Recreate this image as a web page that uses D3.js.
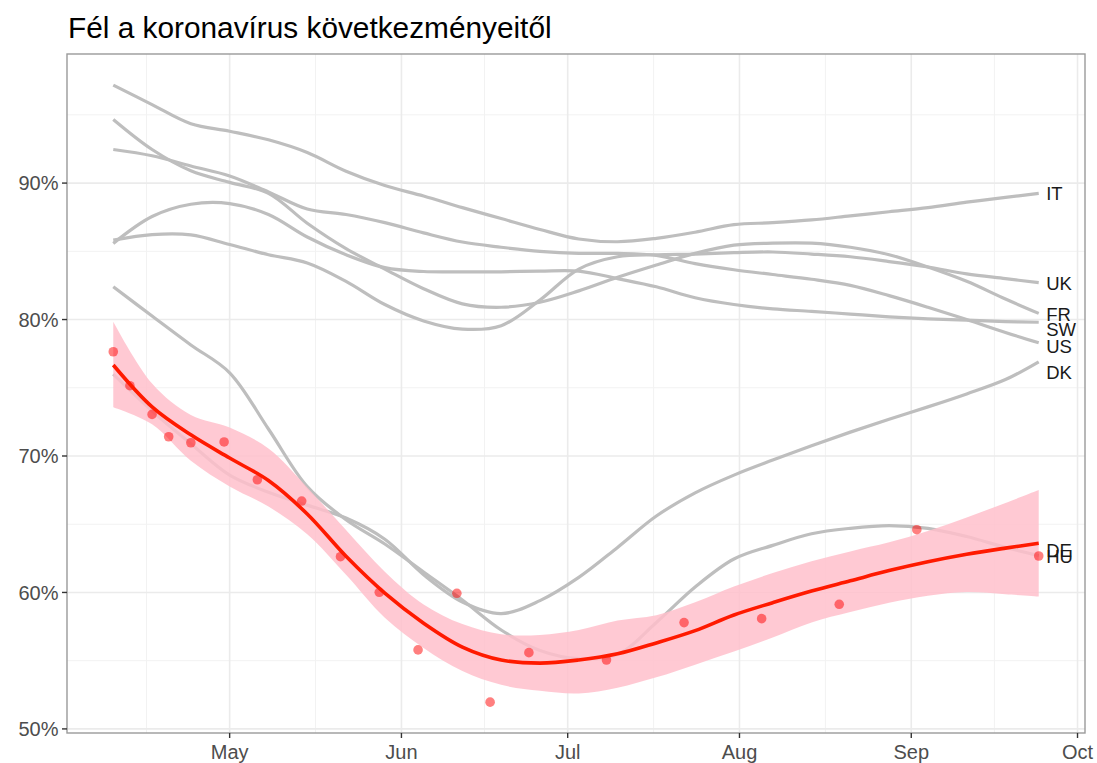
<!DOCTYPE html>
<html><head><meta charset="utf-8">
<script src="https://cdn.jsdelivr.net/npm/d3@7"></script>
<style>body{margin:0;background:#fff}</style>
</head><body>
<svg id="c" width="1097" height="763"></svg>
<script>
// ---------- data ----------
const title = "Fél a koronavírus következményeitől";
const dates = ["2020-04-10","2020-04-17","2020-04-24","2020-05-01","2020-05-08","2020-05-15","2020-05-22","2020-05-29","2020-06-05","2020-06-12","2020-06-19","2020-06-26","2020-07-03","2020-07-10","2020-07-17","2020-07-24","2020-07-31","2020-08-07","2020-08-14","2020-08-21","2020-08-28","2020-09-04","2020-09-11","2020-09-18","2020-09-24"];
const IT = [97.18,95.75,94.35,93.8,93.17,92.24,90.87,89.82,89.05,88.2,87.4,86.6,85.9,85.7,85.95,86.4,86.95,87.1,87.3,87.6,87.9,88.2,88.6,88.95,89.25];
const FR = [94.66,92.46,90.9,90.05,89.25,87.06,85.2,83.7,82.26,81.15,80.9,81.27,82.1,83.1,84.0,84.85,85.45,85.6,85.6,85.3,84.75,83.85,82.8,81.5,80.45];
const US = [92.46,92.0,91.25,90.52,89.35,88.1,87.7,87.1,86.35,85.68,85.3,85.0,84.85,84.85,84.7,84.1,83.65,83.3,82.95,82.5,81.75,80.9,80.0,79.05,78.3];
const SW = [85.58,87.55,88.45,88.5,87.7,86.05,84.75,83.8,83.52,83.5,83.5,83.55,83.55,83.0,82.4,81.6,81.1,80.78,80.6,80.4,80.2,80.05,79.95,79.85,79.8];
const UK = [85.82,86.22,86.2,85.5,84.75,84.15,82.8,81.1,79.9,79.3,79.55,81.43,83.7,84.6,84.75,84.8,84.9,84.95,84.8,84.6,84.25,83.85,83.35,83.0,82.7];
const DK = [76.0,73.3,70.9,68.6,67.35,66.4,65.45,63.9,61.3,59.3,58.45,59.4,61.1,63.3,65.6,67.3,68.6,69.7,70.75,71.75,72.7,73.6,74.55,75.6,76.9];
const DE = [82.4,80.26,78.14,76.1,71.98,67.76,65.33,63.55,61.5,59.45,57.25,55.75,55.15,55.45,57.8,60.4,62.45,63.45,64.3,64.7,64.9,64.7,64.1,63.3,62.7];
const HU = [76.67,73.6,71.55,69.85,68.2,65.75,62.65,59.95,57.75,56.0,55.05,54.82,55.05,55.5,56.3,57.2,58.35,59.25,60.1,60.85,61.6,62.25,62.8,63.25,63.6];
const HU_upper = [79.84,75.31,73.0,72.08,70.55,67.7,64.57,61.52,59.12,57.68,56.94,56.89,57.25,57.94,58.33,59.28,60.43,61.42,62.28,63.01,63.67,64.51,65.5,66.56,67.5];
const HU_lower = [73.57,72.32,69.65,67.77,66.3,64.27,61.3,58.15,55.93,54.24,53.23,52.79,52.6,53.02,53.78,54.71,55.67,56.69,57.8,58.56,59.24,59.76,60.03,59.87,59.7];
const pointDates = ["2020-04-10","2020-04-13","2020-04-17","2020-04-20","2020-04-24","2020-04-30","2020-05-06","2020-05-14","2020-05-21","2020-05-28","2020-06-04","2020-06-11","2020-06-17","2020-06-24","2020-07-08","2020-07-22","2020-08-05","2020-08-19","2020-09-02","2020-09-24"];
const pointValues = [77.64,75.15,73.05,71.41,70.97,71.03,68.26,66.70,62.62,60.01,55.79,59.94,51.96,55.59,55.05,57.79,58.08,59.13,64.60,62.67];
const greyNames = ["IT","FR","US","SW","UK","DK","DE"];
const greySeries = [IT,FR,US,SW,UK,DK,DE];
const labelNames = ["IT","UK","FR","SW","US","DK","DE","HU"];
const labelValues = [89.25,82.65,80.4,79.3,78.0,76.1,63.05,62.65];
const yTicks = [50,60,70,80,90];
const yMinor = [55,65,75,85,95];
const xTickDates = ["2020-05-01","2020-06-01","2020-07-01","2020-08-01","2020-09-01","2020-10-01"];

// ---------- layout ----------
const L = 67, R = 1085, T = 54, B = 733;
const parse = d3.utcParse("%Y-%m-%d");
const dd = dates.map(parse);
const day = 864e5;
const x = d3.scaleUtc()
  .domain([new Date(+dd[0] - 8.35*day), new Date(+dd[dd.length-1] + 8.35*day)])
  .range([L, R]);
const y = d3.scaleLinear().domain([49.7, 99.46]).range([B, T]);
const font = "'Liberation Sans', Arial, Helvetica, sans-serif";

const svg = d3.select("#c");
svg.append("rect").attr("width",1097).attr("height",763).attr("fill","#fff");
svg.append("defs").append("clipPath").attr("id","clip")
  .append("rect").attr("x",L).attr("y",T).attr("width",R-L).attr("height",B-T);

// grid
const xt = xTickDates.map(parse);
const allMajor = [new Date(Date.UTC(2020,3,1))].concat(xt);
const xMinor = d3.pairs(allMajor).map(([a,b]) => new Date((+a + +b)/2))
  .filter(d => x(d) > L && x(d) < R);
const g = svg.append("g");
g.selectAll(".ymin").data(yMinor).join("line")
  .attr("x1",L).attr("x2",R).attr("y1",d=>y(d)).attr("y2",d=>y(d))
  .attr("stroke","#f2f2f2").attr("stroke-width",1);
g.selectAll(".xmin").data(xMinor).join("line")
  .attr("y1",T).attr("y2",B).attr("x1",d=>x(d)).attr("x2",d=>x(d))
  .attr("stroke","#f2f2f2").attr("stroke-width",1);
g.selectAll(".ymaj").data(yTicks).join("line")
  .attr("x1",L).attr("x2",R).attr("y1",d=>y(d)).attr("y2",d=>y(d))
  .attr("stroke","#ebebeb").attr("stroke-width",1.6);
g.selectAll(".xmaj").data(xt.filter(d=>x(d)<R)).join("line")
  .attr("y1",T).attr("y2",B).attr("x1",d=>x(d)).attr("x2",d=>x(d))
  .attr("stroke","#ebebeb").attr("stroke-width",1.6);

const plot = svg.append("g").attr("clip-path","url(#clip)");
const curve = d3.curveCatmullRom.alpha(0.5);
const line = d3.line().x((d,i)=>x(dd[i])).y(d=>y(d)).curve(curve);

plot.selectAll(".grey").data(greySeries).join("path")
  .attr("d", line).attr("fill","none").attr("stroke","#bebebe").attr("stroke-width",3.2);

const area = d3.area().x((d,i)=>x(dd[i])).y0((d,i)=>y(HU_lower[i])).y1((d,i)=>y(HU_upper[i])).curve(curve);
plot.append("path").datum(HU).attr("d",area).attr("fill","#ffc0cb").attr("fill-opacity",0.85);

plot.selectAll(".pt").data(pointValues).join("circle")
  .attr("cx",(d,i)=>x(parse(pointDates[i]))).attr("cy",d=>y(d)).attr("r",4.8)
  .attr("fill","#ff0000").attr("fill-opacity",0.5);

plot.append("path").datum(HU).attr("d",line).attr("fill","none").attr("stroke","#ff1a00").attr("stroke-width",3.6);

// labels
const lastX = x(dd[dd.length-1]);
svg.selectAll(".lab").data(labelNames).join("text")
  .attr("x", lastX + 7.5).attr("y",(d,i)=>y(labelValues[i])).attr("dy","0.36em")
  .attr("font-family",font).attr("font-size","18.5px").attr("fill","#1a1a1a")
  .text(d=>d);

// border
svg.append("rect").attr("x",L).attr("y",T).attr("width",R-L).attr("height",B-T)
  .attr("fill","none").attr("stroke","#9a9a9a").attr("stroke-width",1.4);

// axes ticks
const ax = svg.append("g");
ax.selectAll(".yt").data(yTicks).join("line")
  .attr("x1",L-5).attr("x2",L).attr("y1",d=>y(d)).attr("y2",d=>y(d))
  .attr("stroke","#333").attr("stroke-width",1.4);
ax.selectAll(".ytl").data(yTicks).join("text")
  .attr("x",L-8.5).attr("y",d=>y(d)).attr("dy","0.36em").attr("text-anchor","end")
  .attr("font-family",font).attr("font-size","20px").attr("fill","#4d4d4d")
  .text(d=>d+"%");
ax.selectAll(".xtk").data(xt).join("line")
  .attr("y1",B).attr("y2",B+5).attr("x1",d=>x(d)).attr("x2",d=>x(d))
  .attr("stroke","#333").attr("stroke-width",1.4);
const fmt = d3.utcFormat("%b");
ax.selectAll(".xtl").data(xt).join("text")
  .attr("x",d=>x(d)).attr("y",759).attr("text-anchor","middle")
  .attr("font-family",font).attr("font-size","20px").attr("fill","#4d4d4d")
  .text(d=>fmt(d));

svg.append("text").attr("x",68).attr("y",38)
  .attr("font-family",font).attr("font-size","29.8px").attr("fill","#000")
  .text(title);
</script>
</body></html>
